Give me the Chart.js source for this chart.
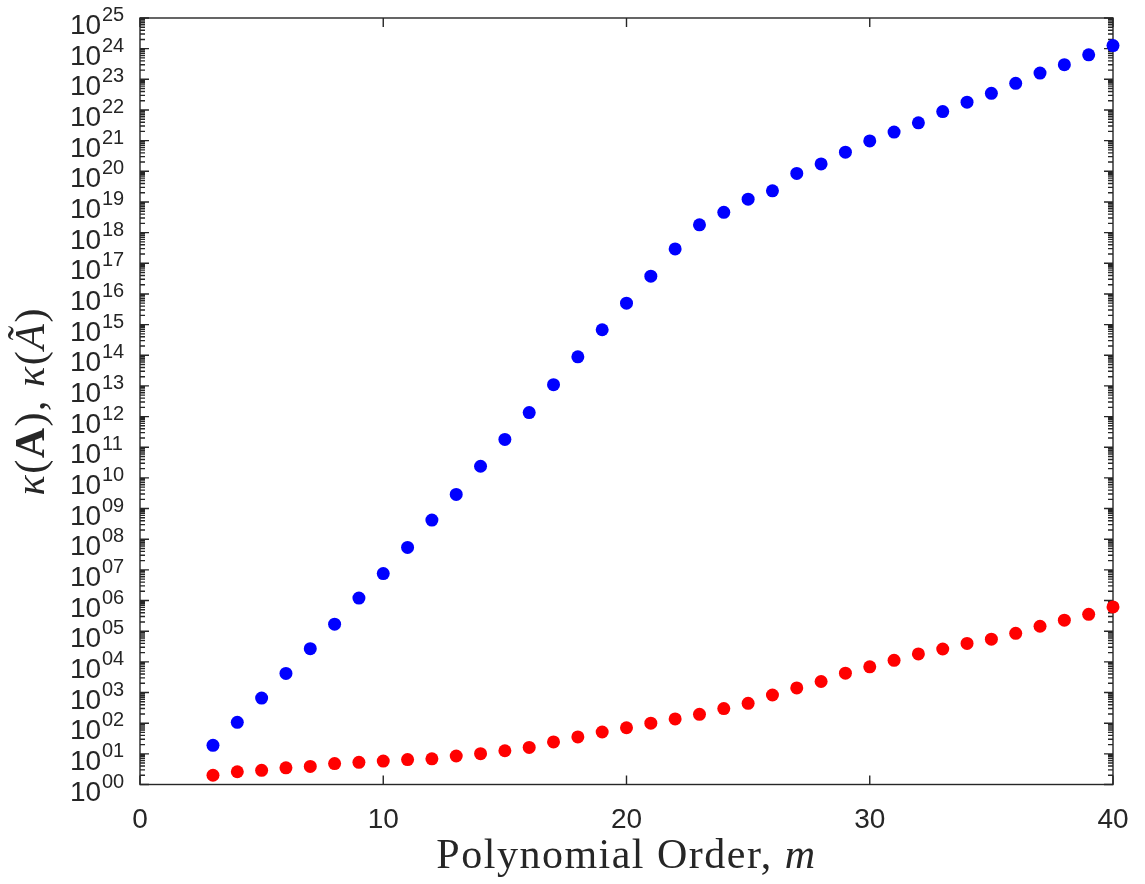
<!DOCTYPE html>
<html lang="en">
<head>
  <meta charset="UTF-8">
  <title>Condition number vs polynomial order</title>
  <script src="https://cdn.jsdelivr.net/npm/chart.js"></script>
  <style>
    html, body { margin: 0; padding: 0; background: #fff; }
    #wrap { width: 1145px; height: 884px; }
  </style>
</head>
<body>
  <div id="wrap"><canvas id="condChart"></canvas></div>

  <script>
    // polynomial order m
    const orders = [3, 4, 5, 6, 7, 8, 9, 10, 11, 12, 13, 14, 15, 16, 17, 18, 19, 20, 21,
      22, 23, 24, 25, 26, 27, 28, 29, 30, 31, 32, 33, 34, 35, 36, 37, 38, 39, 40];
    // kappa(A), blue
    const kappaA = [1.9e1, 1.07e2, 6.6e2, 4.2e3, 2.7e4, 1.7e5, 1.2e6, 7.6e6, 5.4e7, 4.2e8,
      2.9e9, 2.4e10, 1.8e11, 1.35e12, 1.1e13, 8.9e13, 6.8e14, 5.0e15, 3.8e16, 2.95e17,
      1.8e18, 4.6e18, 1.23e19, 2.3e19, 8.5e19, 1.74e20, 4.2e20, 9.8e20, 1.9e21, 3.8e21,
      8.9e21, 1.8e22, 3.5e22, 7.4e22, 1.6e23, 3.0e23, 6.3e23, 1.26e24];
    // kappa(A tilde), red
    const kappaAt = [2.0, 2.6, 2.9, 3.5, 3.9, 4.8, 5.3, 5.8, 6.5, 6.9, 8.5, 10.1, 12.6, 16.2,
      24.5, 35.5, 51.5, 71, 100, 138, 195, 300, 445, 830, 1410, 2290, 4270, 6900, 11200,
      18200, 26300, 39800, 55000, 85000, 145000, 229000, 355000, 617000];

    const xTicks = [0, 10, 20, 30, 40];
    const yExponents = [0, 1, 2, 3, 4, 5, 6, 7, 8, 9, 10, 11, 12, 13, 14, 15, 16, 17, 18,
      19, 20, 21, 22, 23, 24, 25];

    const AXIS_COLOR = '#262626';
    const SANS = '"Liberation Sans", Arial, sans-serif';
    const SERIF = '"Liberation Serif", "Times New Roman", serif';

    function drawRich(ctx, parts, cx, baseline, spacing) {
      ctx.letterSpacing = (spacing || 0) + 'px';
      let total = 0;
      for (const p of parts) { ctx.font = p.font; total += ctx.measureText(p.text).width; }
      let x = cx - total / 2;
      ctx.textAlign = 'left';
      ctx.textBaseline = 'alphabetic';
      for (const p of parts) {
        ctx.font = p.font;
        ctx.fillText(p.text, x, baseline);
        x += ctx.measureText(p.text).width;
      }
      ctx.letterSpacing = '0px';
    }

    // box, inward ticks, 10^xx labels and axis titles
    const frameAndLabels = {
      id: 'frameAndLabels',
      beforeDatasetsDraw(chart) {
        const { ctx, chartArea: a, scales: { x, y } } = chart;
        ctx.save();
        ctx.strokeStyle = AXIS_COLOR;
        ctx.fillStyle = AXIS_COLOR;
        ctx.lineWidth = 1.4;
        ctx.strokeRect(a.left, a.top, a.right - a.left, a.bottom - a.top);

        ctx.beginPath();
        for (const v of xTicks) {
          const px = x.getPixelForValue(v);
          ctx.moveTo(px, a.bottom); ctx.lineTo(px, a.bottom - 9);
          ctx.moveTo(px, a.top); ctx.lineTo(px, a.top + 9);
        }
        for (const e of yExponents) {
          for (let k = 1; k <= 9; k++) {
            if (e === 25 && k > 1) break;
            const py = y.getPixelForValue(k * Math.pow(10, e));
            const len = k === 1 ? 9 : 5;
            ctx.moveTo(a.left, py); ctx.lineTo(a.left + len, py);
            ctx.moveTo(a.right, py); ctx.lineTo(a.right - len, py);
          }
        }
        ctx.stroke();

        ctx.textAlign = 'left';
        ctx.textBaseline = 'alphabetic';
        for (const e of yExponents) {
          const py = y.getPixelForValue(Math.pow(10, e));
          ctx.font = '28px ' + SANS;
          ctx.fillText('10', 70, py + 16);
          ctx.font = '20px ' + SANS;
          ctx.fillText(String(e).padStart(2, '0'), 102, py + 3);
        }

        // x title
        drawRich(ctx, [
          { text: 'Polynomial Order, ', font: '42px ' + SERIF },
          { text: 'm', font: 'italic 42px ' + SERIF },
        ], (a.left + a.right) / 2, 868, 1.5);

        // y title
        ctx.save();
        ctx.translate(44, (a.top + a.bottom) / 2);
        ctx.rotate(-Math.PI / 2);
        drawRich(ctx, [
          { text: 'κ', font: 'italic 42px ' + SERIF },
          { text: '(', font: '42px ' + SERIF },
          { text: 'A', font: 'bold 42px ' + SERIF },
          { text: '), ', font: '42px ' + SERIF },
          { text: 'κ', font: 'italic 42px ' + SERIF },
          { text: '(', font: '42px ' + SERIF },
          { text: 'Ã', font: 'italic 42px ' + SERIF },
          { text: ')', font: '42px ' + SERIF },
        ], 0, 0, 1.5);
        ctx.restore();

        ctx.restore();
      }
    };

    const blueData = orders.map((m, i) => ({ x: m, y: kappaA[i] }));
    const redData = orders.map((m, i) => ({ x: m, y: kappaAt[i] }));

    new Chart(document.getElementById('condChart').getContext('2d'), {
      type: 'scatter',
      data: {
        datasets: [
          { label: 'κ(A)', data: blueData, backgroundColor: '#0000ff', borderWidth: 0,
            pointRadius: 6.5, pointHoverRadius: 6.5, clip: false },
          { label: 'κ(Ã)', data: redData, backgroundColor: '#ff0000', borderWidth: 0,
            pointRadius: 6.5, pointHoverRadius: 6.5, clip: false },
        ],
      },
      options: {
        responsive: true,
        maintainAspectRatio: false,
        animation: false,
        events: [],
        layout: { padding: { top: 18, right: 32, bottom: 0, left: 0 } },
        plugins: { legend: { display: false }, tooltip: { enabled: false } },
        scales: {
          x: {
            type: 'linear', min: 0, max: 40,
            afterBuildTicks: (s) => { s.ticks = xTicks.map(v => ({ value: v })); },
            afterFit: (s) => { s.height = 99.5; s.paddingLeft = 0; s.paddingRight = 0; },
            ticks: { font: { family: SANS, size: 28 }, color: AXIS_COLOR, padding: 19, maxRotation: 0 },
            grid: { display: false, drawTicks: false },
            border: { display: false },
          },
          y: {
            type: 'logarithmic', min: 1, max: 1e25,
            afterBuildTicks: (s) => { s.ticks = yExponents.map(e => ({ value: Math.pow(10, e), major: true })); },
            afterFit: (s) => { s.width = 140; },
            ticks: { display: false },
            grid: { display: false, drawTicks: false },
            border: { display: false },
          },
        },
      },
      plugins: [frameAndLabels],
    });
  </script>
</body>
</html>
